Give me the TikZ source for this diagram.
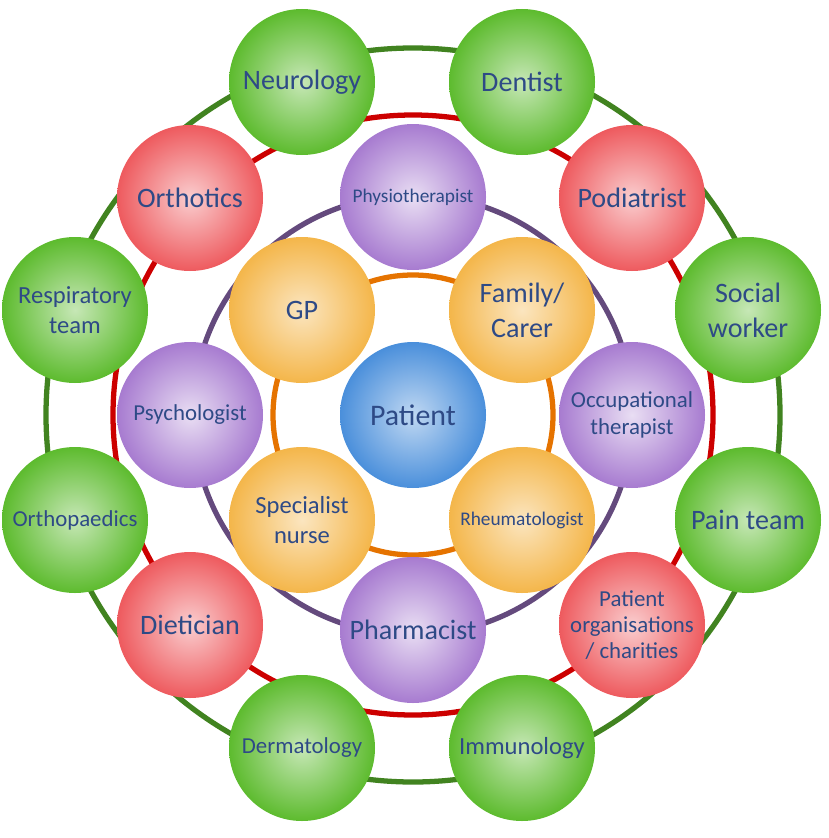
\documentclass[tikz,border=0pt]{standalone}
\usepackage{fontspec}
\setmainfont{Carlito}
\usetikzlibrary{positioning}
\definecolor{txt}{HTML}{2E4A86}
\definecolor{grn}{HTML}{5DBB2E}
\definecolor{rd}{HTML}{EE5A5E}
\definecolor{prp}{HTML}{A77BD0}
\definecolor{org}{HTML}{F4B64A}
\definecolor{blu}{HTML}{4A8FDB}
\tikzset{
  ball/.style={circle,minimum size=146\unit,inner sep=0pt,align=center,text=txt,font=\fontsize{13}{15}\selectfont},
  big/.style={font=\fontsize{16}{20}\selectfont},
  mid/.style={font=\fontsize{14}{17}\selectfont},
  small/.style={font=\fontsize{11}{13}\selectfont},
  greenball/.style={ball,inner color=grn!35!white,outer color=grn},
  redball/.style={ball,inner color=rd!30!white,outer color=rd},
  purpleball/.style={ball,inner color=prp!25!white,outer color=prp},
  orangeball/.style={ball,inner color=org!35!white,outer color=org},
  blueball/.style={ball,inner color=blu!35!white,outer color=blu},
  ring/.style={line width=3pt}
}
\def\unit{*0.02cm}
\begin{document}
\begin{tikzpicture}[x=0.02cm,y=-0.02cm,line cap=round,line join=round]
\useasboundingbox (0,0) rectangle (828,838);
% rings
\draw[ring,color=grn!70!black] (413,415) circle (367);
\draw[ring,color=red!80!black] (413,415) circle (300);
\draw[ring,color=prp!60!black] (413,415) circle (220);
\draw[ring,color=orange!90!black] (413,415) circle (140);
% outer ring
\node[greenball,big] (neuro) at (302,82) {Neurology};
\node[greenball,big] (dentist) at (522,82) {Dentist};
\node[greenball,mid] (resp) at (75,310) {Respiratory\\ team};
\node[greenball,big] (social) at (748,310) {Social\\ worker};
\node[greenball] (ortho) at (75,520) {Orthopaedics};
\node[greenball,big] (pain) at (748,520) {Pain team};
\node[greenball] (derma) at (302,748) {Dermatology};
\node[greenball,mid] (immuno) at (522,748) {Immunology};
% red ring
\node[redball,big] (orthotics) at (190,198) {Orthotics};
\node[redball,big] (podiatrist) at (632,198) {Podiatrist};
\node[redball,big] (dietician) at (190,625) {Dietician};
\node[redball] (orgs) at (632,625) {Patient\\ organisations\\ / charities};
% purple ring
\node[purpleball,small] (physio) at (413,197) {Physiotherapist};
\node[purpleball] (psych) at (190,415) {Psychologist};
\node[purpleball] (occ) at (632,415) {Occupational\\ therapist};
\node[purpleball,big] (pharm) at (413,630) {Pharmacist};
% orange ring
\node[orangeball,big] (gp) at (302,310) {GP};
\node[orangeball,big] (family) at (522,310) {Family/\\ Carer};
\node[orangeball,mid] (nurse) at (302,520) {Specialist\\ nurse};
\node[orangeball,small] (rheum) at (522,520) {Rheumatologist};
% centre
\node[blueball,font=\fontsize{17}{19}\selectfont] (patient) at (413,415) {Patient};
\end{tikzpicture}
\end{document}
